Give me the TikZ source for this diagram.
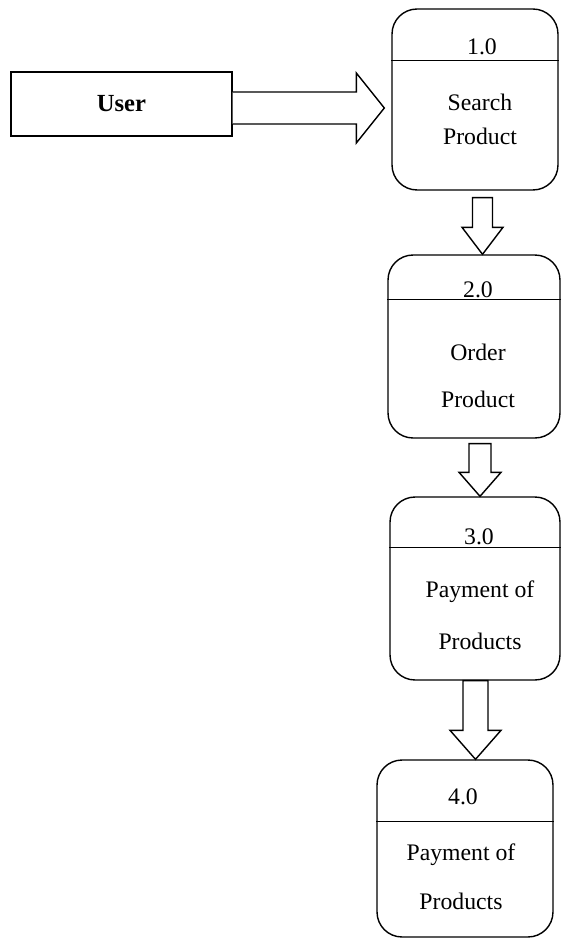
\documentclass[tikz,border=0pt]{standalone}
\usepackage{fontspec}
\setmainfont{Liberation Serif}
\usetikzlibrary{calc, positioning}

\tikzset{
  process/.style={draw, rounded corners=0.5cm, line width=0.8pt},
  entity/.style={draw, line width=0.8pt, font=\fontsize{14}{16}\selectfont\bfseries},
  numtext/.style={font=\fontsize{13.5}{16}\selectfont, inner sep=0pt},
  boxtext/.style={font=\fontsize{13.5}{#1}\selectfont, align=center, inner sep=0pt},
  hollow/.style={draw, line width=0.8pt, line join=miter, fill=white}
}

% hollow block arrow going down: start, tip, shaft half width, head half width, head length
\newcommand\vflow[5]{%
  \draw[hollow] ($(#1)+(-#3,0)$) -- ($(#2)+(-#3,-#5)$) -- ($(#2)+(-#4,-#5)$) -- (#2)
    -- ($(#2)+(#4,-#5)$) -- ($(#2)+(#3,-#5)$) -- ($(#1)+(#3,0)$) -- cycle;}
% same, going right
\newcommand\hflow[5]{%
  \draw[hollow] ($(#1)+(0,-#3)$) -- ($(#2)+(-#5,-#3)$) -- ($(#2)+(-#5,-#4)$) -- (#2)
    -- ($(#2)+(-#5,#4)$) -- ($(#2)+(-#5,#3)$) -- ($(#1)+(0,#3)$);}

\begin{document}
\begin{tikzpicture}[x=0.02cm, y=-0.02cm]
    \useasboundingbox (0,0) rectangle (562,939);

    % External entity
    \node[entity, minimum width=4.42cm, minimum height=1.28cm] (user) at (121.5,104) {User};

    % Processes
    \node[process, minimum width=3.32cm, minimum height=3.62cm] (proc1) at (475,99.5) {};
    \node[process, minimum width=3.44cm, minimum height=3.66cm] (proc2) at (474,346.5) {};
    \node[process, minimum width=3.40cm, minimum height=3.66cm] (proc3) at (475,588.5) {};
    \node[process, minimum width=3.52cm, minimum height=3.54cm] (proc4) at (465,848.5) {};

    % Dividers
    \draw[line width=0.8pt] ($(proc1.north west)+(0,52)$) -- ($(proc1.north east)+(0,52)$);
    \draw[line width=0.8pt] ($(proc2.north west)+(0,45)$) -- ($(proc2.north east)+(0,45)$);
    \draw[line width=0.8pt] ($(proc3.north west)+(0,51)$) -- ($(proc3.north east)+(0,51)$);
    \draw[line width=0.8pt] ($(proc4.north west)+(0,62)$) -- ($(proc4.north east)+(0,62)$);

    % Process labels
    \node[numtext] (num1) at ($(proc1.north)+(7,38)$) {1.0};
    \node[numtext] (num2) at ($(proc2.north)+(4,35)$) {2.0};
    \node[numtext] (num3) at ($(proc3.north)+(4,40)$) {3.0};
    \node[numtext] (num4) at ($(proc4.north)+(-2,37)$) {4.0};
    \node[boxtext=19.5pt] (name1) at ($(proc1.north)+(5,111)$) {Search\\Product};
    \node[boxtext=26.7pt] (name2) at ($(proc2.north)+(4,121.5)$) {Order\\Product};
    \node[boxtext=29.6pt] (name3) at ($(proc3.north)+(5,119)$) {Payment of\\Products};
    \node[boxtext=27.9pt] (name4) at ($(proc4.north)+(-4,117.5)$) {Payment of\\Products};

    % Flows
    \coordinate (s01) at ($(user.east)+(0,4)$);
    \coordinate (e01) at ($(s01 -| proc1.west)+(-7,0)$);
    \coordinate (s12) at ($(proc1.south)+(7.5,7)$);
    \coordinate (e12) at (s12 |- proc2.north);
    \coordinate (s23) at ($(proc2.south)+(6,5)$);
    \coordinate (e23) at (s23 |- proc3.north);
    \coordinate (s34) at ($(proc3.south)+(0.5,0)$);
    \coordinate (e34) at (s34 |- proc4.north);

    \hflow{s01}{e01}{16}{35}{28}
    \vflow{s12}{e12}{10}{20.5}{27}
    \vflow{s23}{e23}{11}{21}{24}
    \vflow{s34}{e34}{12.5}{25.5}{29}

\end{tikzpicture}
\end{document}
